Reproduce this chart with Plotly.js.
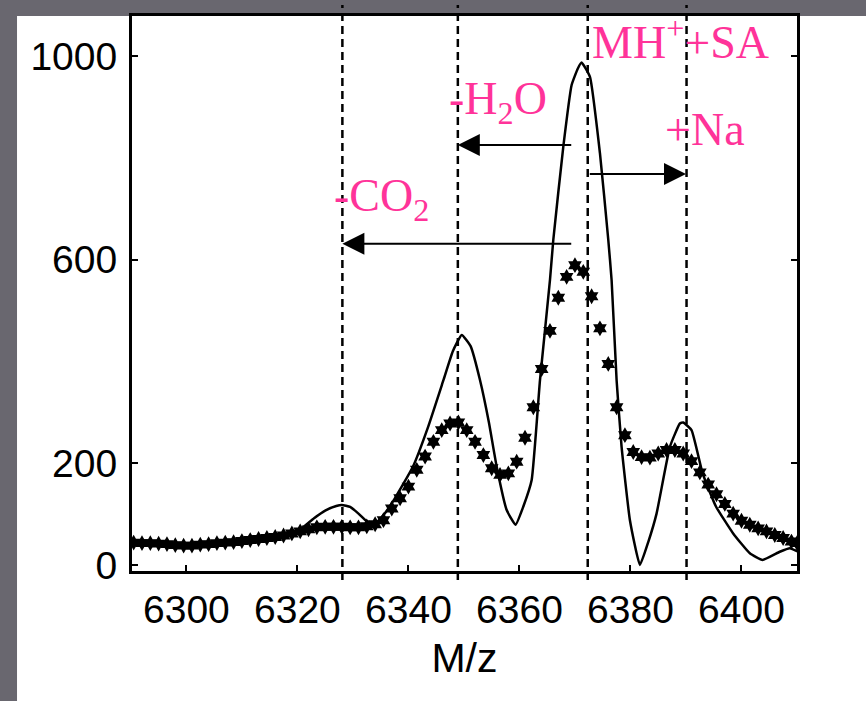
<!DOCTYPE html>
<html>
<head>
<meta charset="utf-8">
<script src="https://cdn.plot.ly/plotly-3.0.1.min.js"></script>
<style>
  html, body { margin: 0; padding: 0; background: #ffffff; }
  #chart { width: 866px; height: 701px; }
</style>
</head>
<body>
<div id="chart"></div>
<script>
// Simulated spectrum (solid line)
var simMz = [6290.2, 6294, 6300, 6306, 6312, 6316, 6319, 6321, 6323, 6325, 6327, 6328, 6329.5, 6331, 6332.5, 6334, 6335.5, 6337.5, 6340.8, 6343.5, 6346.3, 6348, 6349.6, 6351.2, 6352.9, 6354.5, 6355.9, 6357.7, 6359.3, 6360.7, 6362.2, 6363.7, 6365.5, 6366.1, 6367.9, 6369.4, 6370.5, 6371.2, 6372.7, 6374.5, 6376, 6376.6, 6377.5, 6378.4, 6379.9, 6381.7, 6383.2, 6384.7, 6387.1, 6388.9, 6389.5, 6391, 6393, 6395.4, 6398.5, 6401.5, 6403.8, 6406.9, 6408.7, 6410.2];
var simIntensity = [45, 43, 40, 43, 50, 56, 64, 74, 92, 107, 116, 118, 114, 101, 86, 82, 98, 130, 193, 270, 363, 420, 452, 430, 363, 280, 193, 108, 79, 115, 167, 363, 560, 639, 822, 943, 975, 987, 959, 809, 639, 560, 363, 232, 88, 0, 45, 101, 232, 278, 280, 265, 180, 115, 62, 23, 10, 26, 33, 26];

// Measured spectrum (star markers)
var expMz = [6290.5, 6292, 6293.5, 6295, 6296.5, 6298, 6299.5, 6301, 6302.5, 6304, 6305.5, 6307, 6308.5, 6310, 6311.5, 6313, 6314.5, 6316, 6317.5, 6319, 6320.5, 6322, 6323.5, 6325, 6326.5, 6328, 6329.5, 6331, 6332.5, 6334, 6335.5, 6337, 6338.5, 6340, 6341.5, 6343, 6344.5, 6346, 6347.5, 6349, 6350.5, 6352, 6353.5, 6355, 6356.5, 6358, 6359.5, 6361, 6362.5, 6364, 6365.5, 6367, 6368.5, 6370, 6371.5, 6373, 6374.5, 6376, 6377.5, 6379, 6380.5, 6382, 6383.5, 6385, 6386.5, 6388, 6389.5, 6391, 6392.5, 6394, 6395.5, 6397, 6398.5, 6400, 6401.5, 6403, 6404.5, 6406, 6407.5, 6409, 6410];
var expIntensity = [44, 43, 43, 42, 41, 39, 38, 38, 40, 41, 43, 44, 45, 47, 49, 51, 53, 55, 58, 62, 66, 70, 74, 75, 75, 75, 74, 74, 76, 80, 88, 111, 131, 154, 187, 213, 242, 265, 278, 280, 265, 242, 216, 190, 177, 180, 203, 250, 310, 385, 460, 525, 566, 589, 576, 528, 465, 395, 310, 255, 222, 212, 211, 219, 226, 226, 219, 204, 182, 158, 139, 120, 101, 87, 79, 72, 66, 59, 53, 46, 43];

// Axis ticks
var xTicks = [6300, 6320, 6340, 6360, 6380, 6400];
var yTicks = [0, 200, 600, 1000];

// Reference lines (m/z) and labels
var refLines = [6328.1, 6348.9, 6372.3, 6390.1];
var labelTexts = ['MH<sup>+</sup>+SA', '-H<sub>2</sub>O', '-CO<sub>2</sub>', '+Na'];
var labelMz = [6372.7, 6346.9, 6326.2, 6385.8];
var labelY = [1033, 910, 720, 855];

// Arrows: tail -> head
var arrowTailMz = [6369.6, 6369.6, 6372.4];
var arrowHeadMz = [6348.9, 6328.1, 6390.0];
var arrowY = [825, 631, 768];

var pink = 'rgb(255,51,153)';
var grey = '#69676f';
var sansFont = 'Liberation Sans, Arial, Helvetica, sans-serif';
var serifFont = 'Liberation Serif, Times New Roman, serif';

var traces = [
  {
    x: simMz, y: simIntensity, type: 'scatter', mode: 'lines',
    line: {color: '#000000', width: 2.5, shape: 'spline', smoothing: 0.4},
    hoverinfo: 'skip'
  },
  {
    x: expMz, y: expIntensity, type: 'scatter', mode: 'markers',
    marker: {symbol: 'hexagram', size: 12, color: '#000000', line: {width: 0}},
    hoverinfo: 'skip'
  }
];

var shapes = [
  // grey photo background strips
  {type: 'rect', xref: 'paper', yref: 'paper', x0: -0.1985, x1: -0.1729, y0: -0.2342, y1: 1.0288,
   fillcolor: grey, line: {width: 0}, layer: 'below'},
  {type: 'rect', xref: 'paper', yref: 'paper', x0: -0.1985, x1: 1.1038, y0: 1.0, y1: 1.0288,
   fillcolor: grey, line: {width: 0}, layer: 'below'}
];
refLines.forEach(function (m) {
  shapes.push({type: 'line', xref: 'x', yref: 'paper', x0: m, x1: m, y0: -0.0162, y1: 1.0198,
               line: {color: '#000000', width: 2.5, dash: '8px,5px'}});
});

var annotations = [];
labelTexts.forEach(function (t, i) {
  annotations.push({x: labelMz[i], y: labelY[i], xref: 'x', yref: 'y', text: t, showarrow: false,
                    xanchor: 'left', yanchor: 'middle',
                    font: {family: serifFont, size: 46, color: pink}});
});
arrowHeadMz.forEach(function (h, i) {
  annotations.push({x: h, y: arrowY[i], ax: arrowTailMz[i], ay: arrowY[i], xref: 'x', yref: 'y',
                    axref: 'x', ayref: 'y', text: '', showarrow: true,
                    arrowhead: 2, arrowsize: 2.2, arrowwidth: 2, arrowcolor: '#000000', standoff: 0});
});

var layout = {
  width: 866, height: 701,
  margin: {l: 132, r: 69, t: 16, b: 130, pad: 0},
  paper_bgcolor: '#ffffff', plot_bgcolor: '#ffffff',
  showlegend: false,
  xaxis: {
    range: [6290.2, 6410], tickvals: xTicks, ticktext: xTicks.map(String),
    ticks: 'inside', ticklen: 6, tickwidth: 2, tickcolor: '#000000',
    showline: true, linecolor: '#000000', linewidth: 3, mirror: true,
    showgrid: false, zeroline: false, ticklabelstandoff: 2,
    tickfont: {family: sansFont, size: 39, color: '#000000'},
    title: {text: 'M/z', font: {family: sansFont, size: 41, color: '#000000'}, standoff: 14}
  },
  yaxis: {
    range: [-11.8, 1078.6], tickvals: yTicks, ticktext: yTicks.map(String),
    ticks: 'inside', ticklen: 6, tickwidth: 2, tickcolor: '#000000',
    showline: true, linecolor: '#000000', linewidth: 3, mirror: 'ticks',
    showgrid: false, zeroline: false, ticklabelstandoff: 4,
    tickfont: {family: sansFont, size: 39, color: '#000000'}
  },
  shapes: shapes,
  annotations: annotations
};

Plotly.newPlot('chart', traces, layout, {staticPlot: true, displayModeBar: false});
</script>
</body>
</html>
